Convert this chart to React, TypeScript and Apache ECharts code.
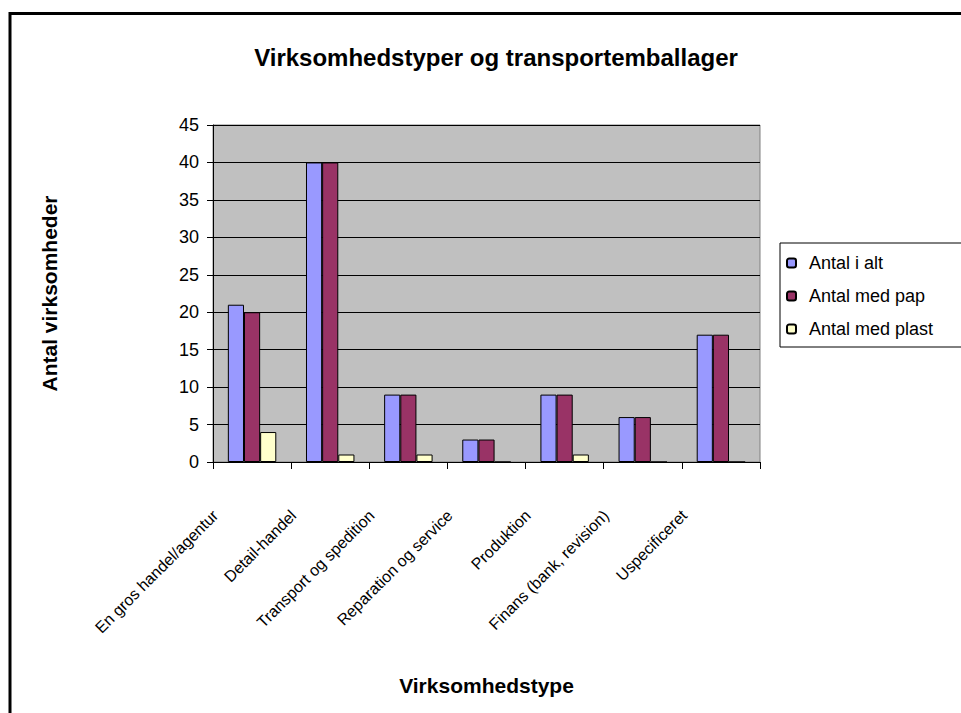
import React, { useEffect, useRef } from "react";
import * as echarts from "echarts";

const categories = [
  "En gros handel/agentur",
  "Detail-handel",
  "Transport og spedition",
  "Reparation og service",
  "Produktion",
  "Finans (bank, revision)",
  "Uspecificeret",
];
const antalIAlt = [21, 40, 9, 3, 9, 6, 17];
const antalMedPap = [20, 40, 9, 3, 9, 6, 17];
const antalMedPlast = [4, 1, 1, 0, 1, 0, 0];
const seriesNames = ["Antal i alt", "Antal med pap", "Antal med plast"];
const seriesColors = ["#9999FF", "#993366", "#FFFFCC"];

const FONT = 'Arial, "Liberation Sans", sans-serif';

export default function App() {
  const ref = useRef<HTMLDivElement>(null);
  useEffect(() => {
    document.body.style.margin = "0";
    const chart = echarts.init(ref.current!, null, { renderer: "svg" });
    const dataSets = [antalIAlt, antalMedPap, antalMedPlast];
    chart.setOption({
      animation: false,
      backgroundColor: "#ffffff",
      textStyle: { fontFamily: FONT, color: "#000" },
      title: {
        text: "Virksomhedstyper og transportemballager",
        left: 491,
        top: 40,
        textAlign: "center",
        textStyle: { fontFamily: FONT, fontSize: 24, fontWeight: "bold", color: "#000" },
      },
      legend: {
        orient: "vertical",
        left: 780,
        top: 243,
        padding: [10, 30, 8, 6],
        itemGap: 13,
        itemWidth: 9,
        itemHeight: 9,
        borderColor: "#000",
        borderWidth: 1,
        backgroundColor: "#fff",
        textStyle: {
          fontFamily: FONT,
          fontSize: 18,
          color: "#000",
          lineHeight: 20,
          padding: [0, 0, 0, 8],
        },
        data: seriesNames,
      },
      grid: {
        left: 213,
        top: 125,
        right: 201,
        bottom: 251,
        show: true,
        backgroundColor: "#C0C0C0",
        borderColor: "#808080",
        borderWidth: 1,
      },
      xAxis: {
        type: "category",
        data: categories,
        name: "Virksomhedstype",
        nameLocation: "middle",
        nameGap: 213,
        nameTextStyle: { fontFamily: FONT, fontSize: 21, fontWeight: "bold", color: "#000" },
        axisLine: { lineStyle: { color: "#000", width: 1 } },
        axisTick: { show: true, length: 7, lineStyle: { color: "#000" } },
        axisLabel: {
          rotate: 45,
          interval: 0,
          fontFamily: FONT,
          fontSize: 16,
          color: "#000",
          margin: 14,
          padding: [0, 52, 0, 0],
        },
      },
      yAxis: {
        type: "value",
        min: 0,
        max: 45,
        interval: 5,
        name: "Antal virksomheder",
        nameLocation: "middle",
        nameRotate: 90,
        nameGap: 153,
        nameTextStyle: { fontFamily: FONT, fontSize: 21, fontWeight: "bold", color: "#000" },
        axisLine: { show: true, lineStyle: { color: "#000", width: 1 } },
        axisTick: { show: true, length: 6, lineStyle: { color: "#000" } },
        axisLabel: { fontFamily: FONT, fontSize: 18, color: "#000", margin: 14 },
        splitLine: { show: true, lineStyle: { color: "#000", width: 1 } },
      },
      series: seriesNames.map((name, i) => ({
        name,
        type: "bar",
        data: dataSets[i],
        barGap: "0%",
        barCategoryGap: "38%",
        itemStyle: { color: seriesColors[i], borderColor: "#000", borderWidth: 1 },
      })),
      graphic: [
        {
          type: "rect",
          shape: { x: 10, y: 13.5, width: 1000, height: 800 },
          style: { fill: "none", stroke: "#000", lineWidth: 3 },
          silent: true,
          z: 100,
        },
      ],
    });
    return () => chart.dispose();
  }, []);
  return <div ref={ref} style={{ width: 961, height: 713 }} />;
}
